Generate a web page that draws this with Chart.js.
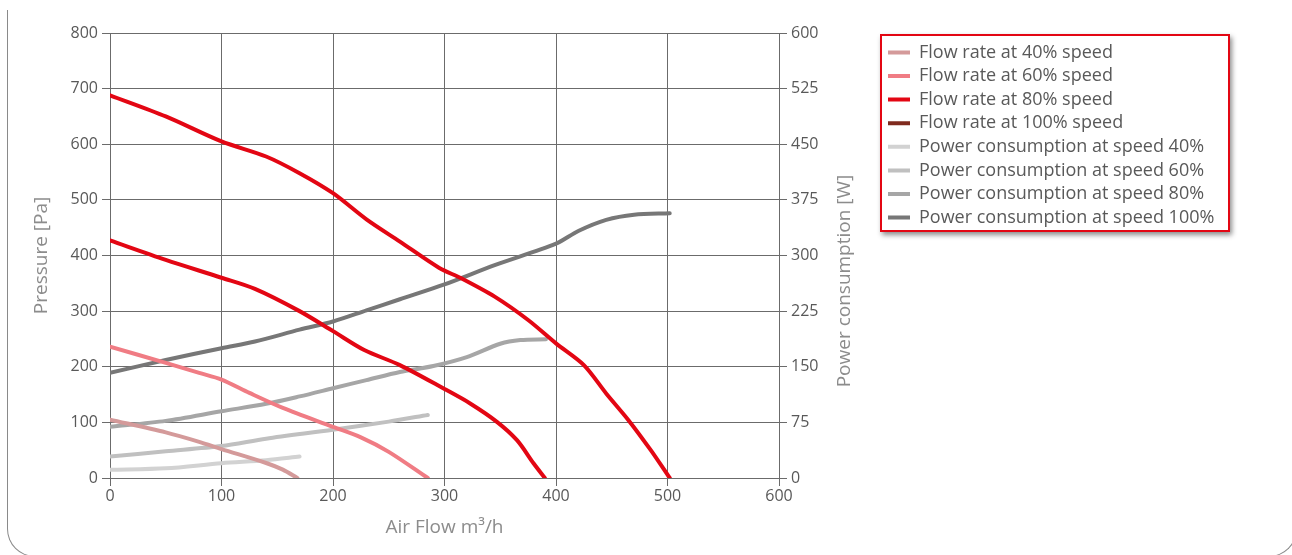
<!DOCTYPE html>
<html>
<head>
<meta charset="utf-8">
<script src="https://cdn.jsdelivr.net/npm/chart.js@4.4.1/dist/chart.umd.min.js"></script>
<style>
  html, body { margin: 0; padding: 0; background: #fff; overflow: hidden; }
  #card {
    position: absolute; left: 7px; top: 10px; width: 1288px; height: 546px;
    border: 1px solid #8a8a8a; border-top: none; border-radius: 0 0 28px 28px;
  }
  #wrap { position: absolute; left: 0; top: 0; width: 1292px; height: 555px; }
</style>
</head>
<body>
<div id="card"></div>
<div id="wrap"><canvas id="fanChart"></canvas></div>
<script>
// air flow (m3/h) and pressure (Pa)
const flow40Q = [0, 50, 80, 100, 140, 155, 168];
const flow40P = [105, 82, 65, 52, 27, 15, 0];
const flow60Q = [0, 50, 80, 100, 125, 155, 200, 225, 250, 285];
const flow60P = [236, 207, 189, 177, 153, 126, 92, 73, 47, 0];
const flow80Q = [0, 50, 100, 130, 170, 200, 228, 260, 300, 323, 347, 365, 380, 390];
const flow80P = [427, 392, 360, 340, 300, 264, 230, 203, 160, 134, 101, 68, 26, 0];
const flow100Q = [0, 50, 100, 140, 170, 200, 230, 260, 295, 315, 345, 375, 400, 425, 445, 465, 485, 502];
const flow100P = [688, 650, 605, 578, 548, 512, 465, 425, 378, 359, 326, 284, 242, 203, 152, 104, 50, 0];

// power consumption (W)
const power40Q = [0, 50, 100, 140, 170];
const power40W = [11, 13, 20, 24, 29];
const power60Q = [0, 50, 100, 140, 200, 250, 285];
const power60W = [29, 36, 43, 53, 65, 76, 85];
const power80Q = [0, 50, 100, 140, 170, 200, 230, 260, 290, 320, 350, 368, 391];
const power80W = [69, 77, 90, 100, 110, 121, 132, 143, 151, 163, 181, 186, 187];
const power100Q = [0, 50, 100, 130, 170, 200, 230, 260, 300, 345, 400, 420, 445, 470, 502];
const power100W = [142, 159, 175, 184, 200, 211, 226, 241, 261, 287, 316, 333, 348, 355, 357];

const seriesLabels = [
  "Flow rate at 40% speed",
  "Flow rate at 60% speed",
  "Flow rate at 80% speed",
  "Flow rate at 100% speed",
  "Power consumption at speed 40%",
  "Power consumption at speed 60%",
  "Power consumption at speed 80%",
  "Power consumption at speed 100%"
];
const seriesColors = ["#d49a9a", "#f07c84", "#e30613", "#7f2a1e", "#d2d2d2", "#c0c0c0", "#a6a6a6", "#777777"];

const FONT = "'Open Sans', sans-serif";
const TICK_COLOR = "#595959";
const TITLE_COLOR = "#8c8c8c";
const GRID_COLOR = "#6b6b6b";

const LEGEND_SIZE = 18;
const LEGEND_PAD = 5.6;
const SWATCH = 22;

function toPoints(xs, ys) {
  return xs.map((x, i) => ({ x: x, y: ys[i] }));
}

function makeSet(i, xs, ys, axis) {
  return {
    label: seriesLabels[i],
    data: toPoints(xs, ys),
    borderColor: seriesColors[i],
    backgroundColor: seriesColors[i],
    borderWidth: 4,
    borderCapStyle: "round",
    borderJoinStyle: "round",
    pointRadius: 0,
    pointHoverRadius: 0,
    tension: 0.3,
    fill: false,
    yAxisID: axis
  };
}

const datasets = [
  makeSet(0, flow40Q, flow40P, "y"),
  makeSet(1, flow60Q, flow60P, "y"),
  makeSet(2, flow80Q, flow80P, "y"),
  makeSet(3, flow100Q, flow100P, "y"),
  makeSet(4, power40Q, power40W, "y2"),
  makeSet(5, power60Q, power60W, "y2"),
  makeSet(6, power80Q, power80W, "y2"),
  makeSet(7, power100Q, power100W, "y2")
];
// the 100% flow curve is drawn red in the original, its legend swatch stays brown
datasets[3].segment = { borderColor: () => "#e30613" };

// work out the legend's natural width so it lands where the original one sits
const measure = document.createElement("canvas").getContext("2d");
measure.font = "normal " + LEGEND_SIZE + "px " + FONT;
const longest = Math.max(...seriesLabels.map(t => measure.measureText(t).width));
const legendWidth = LEGEND_PAD + SWATCH + LEGEND_SIZE / 2 + longest + 10;
const legendLeft = 888 - LEGEND_PAD;
const padRight = 1292 - legendLeft - legendWidth;

// framed legend box with shadow + right axis title reading bottom-up
const decorPlugin = {
  id: "decor",
  beforeDraw(chart) {
    const boxes = chart.legend.legendHitBoxes;
    if (!boxes || !boxes.length) return;
    const ctx = chart.ctx;
    const x0 = boxes[0].left - 8;
    const y0 = chart.legend.top + 1;
    ctx.save();
    ctx.shadowColor = "rgba(0,0,0,0.45)";
    ctx.shadowBlur = 5;
    ctx.shadowOffsetX = 2;
    ctx.shadowOffsetY = 3;
    ctx.fillStyle = "#fff";
    ctx.fillRect(x0, y0, 350, 198);
    ctx.restore();
    ctx.save();
    ctx.strokeStyle = "#e30613";
    ctx.lineWidth = 2;
    ctx.strokeRect(x0 + 1, y0 + 1, 348, 196);
    ctx.restore();
  },
  afterDraw(chart) {
    const ctx = chart.ctx;
    const y2 = chart.scales.y2;
    ctx.save();
    ctx.translate(y2.left + 66, 281);
    ctx.rotate(-Math.PI / 2);
    ctx.fillStyle = TITLE_COLOR;
    ctx.font = "19px " + FONT;
    ctx.textAlign = "center";
    ctx.textBaseline = "middle";
    ctx.fillText("Power consumption [W]", 0, 0);
    ctx.restore();
  }
};

new Chart(document.getElementById("fanChart"), {
  type: "line",
  data: { datasets: datasets },
  plugins: [decorPlugin],
  options: {
    responsive: true,
    maintainAspectRatio: false,
    animation: false,
    layout: { padding: { left: 28, top: 33, right: padRight, bottom: 10 } },
    plugins: {
      tooltip: { enabled: false },
      legend: {
        position: "right",
        align: "start",
        maxWidth: Math.ceil(legendWidth) + 2,
        title: { display: true, text: "", padding: 0, font: { size: 4 } },
        labels: {
          usePointStyle: true,
          pointStyle: "line",
          pointStyleWidth: SWATCH,
          padding: LEGEND_PAD,
          color: TICK_COLOR,
          font: { family: FONT, size: LEGEND_SIZE }
        }
      }
    },
    scales: {
      x: {
        type: "linear",
        min: 0,
        max: 600,
        ticks: { stepSize: 100, color: TICK_COLOR, padding: 1, font: { family: FONT, size: 16 } },
        grid: { color: GRID_COLOR, tickLength: 8 },
        border: { color: GRID_COLOR },
        title: {
          display: true,
          text: "Air Flow m³/h",
          color: TITLE_COLOR,
          padding: { top: 0, bottom: 6 },
          font: { family: FONT, size: 19 }
        },
        afterFit: s => { s.height = 67; }
      },
      y: {
        position: "left",
        min: 0,
        max: 800,
        ticks: { stepSize: 100, color: TICK_COLOR, padding: 4, font: { family: FONT, size: 16 } },
        grid: { color: GRID_COLOR, tickLength: 8 },
        border: { color: GRID_COLOR },
        title: {
          display: true,
          text: "Pressure [Pa]",
          color: TITLE_COLOR,
          padding: { top: 2, bottom: 0 },
          font: { family: FONT, size: 19 }
        },
        afterFit: s => { s.width = 82; }
      },
      y2: {
        position: "right",
        min: 0,
        max: 600,
        ticks: { stepSize: 75, color: TICK_COLOR, padding: 4, font: { family: FONT, size: 16 } },
        grid: { drawOnChartArea: false, color: GRID_COLOR, tickLength: 8 },
        border: { color: GRID_COLOR },
        afterFit: s => { s.width = legendLeft - 779; }
      }
    }
  }
});
</script>
</body>
</html>
